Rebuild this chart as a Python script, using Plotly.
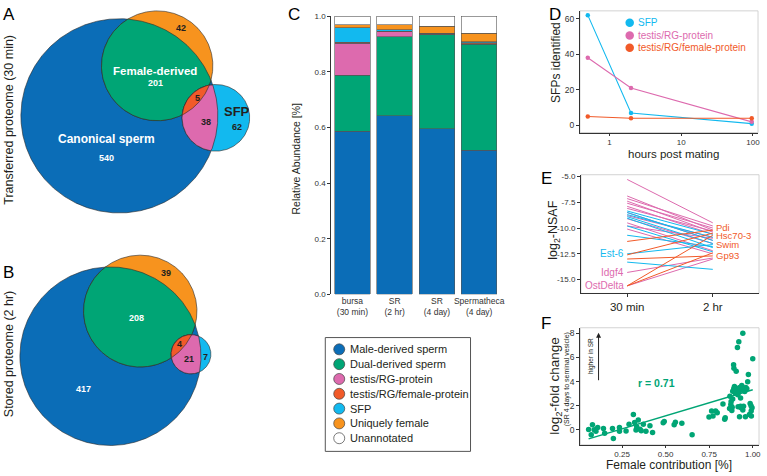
import numpy as np
import plotly.graph_objects as go

W, H = 767, 476
FONT = "Liberation Sans, Arial, Helvetica, sans-serif"
DARK = "#231f20"

BLUE = "#0b6db7"
GREEN = "#00a575"
PINK = "#dd6aae"
RED = "#f15a29"
CYAN = "#12b9ef"
ORANGE = "#f7931e"

# ---------------- data ----------------
# Venn counts: sperm only, sperm&female, female only, sperm&female&SFP, sperm&SFP, SFP only
venn_a_counts = [540, 201, 42, 5, 38, 62]
venn_b_counts = [417, 208, 39, 4, 21, 7]

samples = ["bursa<br>(30 min)", "SR<br>(2 hr)", "SR<br>(4 day)", "Spermatheca<br>(4 day)"]
categories = ["Male-derived sperm", "Dual-derived sperm", "testis/RG-protein",
              "testis/RG/female-protein", "SFP", "Uniquely female", "Unannotated"]
male_derived = [0.587, 0.641, 0.595, 0.518]
dual_derived = [0.201, 0.285, 0.337, 0.380]
testis_rg = [0.115, 0.017, 0.002, 0.003]
testis_rg_female = [0.003, 0.003, 0.004, 0.004]
sfp_frac = [0.052, 0.004, 0.001, 0.002]
uniquely_female = [0.011, 0.018, 0.024, 0.032]
unannotated = [0.031, 0.032, 0.037, 0.061]
cat_colors = [BLUE, GREEN, PINK, RED, CYAN, ORANGE, "#ffffff"]

hours = [0.5, 2, 96]
sfp_identified = [62, 7, 1]
testis_identified = [38, 21, 2]
testis_female_identified = [5, 4, 4]
d_series = ["SFP", "testis/RG-protein", "testis/RG/female-protein"]

e_times = ["30 min", "2 hr"]
e_pink_start = [-5.3, -6.9, -7.15, -7.4, -7.6, -7.9, -8.1, -8.5, -8.8, -9.1, -9.5, -9.8, -10.1, -14.3, -15.6]
e_pink_end = [-9.5, -10.2, -9.8, -10.4, -10.0, -10.6, -10.3, -11.2, -10.9, -11.5, -12.2, -11.0, -12.5, -12.9, -13.0]
e_blue_start = [-8.35, -8.5, -8.7, -8.9, -9.05, -9.8, -10.7, -12.5, -13.3]
e_blue_end = [-10.6, -11.2, -10.9, -11.5, -11.9, -12.3, -11.8, -11.6, -14.0]
e_red_start = [-11.3, -12.6, -13.0, -15.6, -15.6]
e_red_end = [-10.2, -10.5, -12.7, -10.7, -12.4]
e_left_labels = ["Est-6", "Idgf4", "OstDelta"]
e_left_values = [-12.5, -14.3, -15.6]
e_left_colors = [CYAN, PINK, PINK]
e_right_labels = ["Pdi", "Hsc70-3", "Swim", "Gp93"]
e_right_values = [-9.95, -10.7, -11.6, -12.7]

f_female = [0.058, 0.073, 0.08, 0.09, 0.10, 0.11, 0.143, 0.15, 0.195, 0.20, 0.235, 0.235, 0.273,
            0.29, 0.315, 0.322, 0.33, 0.334, 0.343, 0.353, 0.36, 0.372, 0.387, 0.41, 0.425, 0.486,
            0.492, 0.549, 0.556, 0.593, 0.652,
            0.749, 0.764, 0.772, 0.787, 0.796, 0.829, 0.839, 0.842, 0.867, 0.869, 0.874, 0.88,
            0.882, 0.885, 0.89, 0.892, 0.891, 0.895, 0.895, 0.90, 0.905, 0.909, 0.912, 0.914,
            0.916, 0.918, 0.92, 0.924, 0.93, 0.933, 0.937, 0.943, 0.943, 0.947, 0.954, 0.958,
            0.966, 0.971, 0.975, 0.981, 0.985, 0.991, 0.996, 1.0, 0.992, 0.90, 0.905, 0.92,
            0.925, 0.885, 0.94, 0.96, 0.876, 0.99, 0.93]
f_logfc = [0.03, -0.41, 0.41, 0.0, -0.13, 0.19, 0.11, -0.3, 0.11, -0.73, 0.19, -0.13, -0.11,
           0.46, 1.27, 0.6, -0.03, 0.24, 0.81, 0.05, -0.08, 0.46, -0.13, 0.33, -0.22, 0.57,
           0.68, 0.41, 0.62, 0.54, -0.41,
           1.05, 1.55, 1.14, 1.55, 1.41, 2.14, 0.87, 1.0, 1.76, 2.77, 2.09, 1.6,
           1.87, 2.55, 5.4, 5.1, 3.39, 3.17, 3.58, 3.04, 4.85, 3.36, 6.83, 2.9,
           1.9, 3.31, 7.3, 1.08, 2.63, 1.82, 3.66, 8.0, 1.63, 1.95, 3.17, 1.08,
           3.39, 3.99, 4.58, 1.27, 2.17, 1.55, 1.82, 5.89, 1.14, 3.25, 3.45, 3.1,
           3.5, 3.2, 3.3, 3.5, 2.35, 2.0, 1.95]
f_fit_x = [0.058, 1.0]
f_fit_y = [-0.76, 3.31]
f_r = 0.71

# ---------------- layout helpers ----------------
def dx(a, b):
    return [a / W, b / W]

def dy(top, bottom):
    return [1 - bottom / H, 1 - top / H]

fig = go.Figure()

# ---------------- Venn diagrams (pixel overlay axis) ----------------
venn_a_geom = dict(sperm=(120, 114, 99), female=(158, 63, 56), sfp=(217, 116, 34))
venn_b_geom = dict(sperm=(111, 359, 91), female=(141, 313, 57), sfp=(192, 357, 20))

def region(circles, n=720):
    xs, ys = [], []
    for i, c in enumerate(circles):
        t = np.linspace(0, 2 * np.pi, n, endpoint=False)
        x = c[0] + c[2] * np.cos(t)
        y = c[1] + c[2] * np.sin(t)
        m = np.ones_like(x, dtype=bool)
        for j, o in enumerate(circles):
            if j != i:
                m &= (x - o[0]) ** 2 + (y - o[1]) ** 2 <= o[2] ** 2 + 1e-9
        xs.append(x[m]); ys.append(y[m])
    x = np.concatenate(xs); y = np.concatenate(ys)
    cx, cy = x.mean(), y.mean()
    order = np.argsort(np.arctan2(y - cy, x - cx))
    x = x[order]; y = y[order]
    return np.append(x, x[0]), np.append(y, y[0])

def add_region(circles, color):
    x, y = region(circles)
    fig.add_trace(go.Scatter(x=x, y=y, mode="lines", fill="toself", fillcolor=color,
                             line=dict(color="#2a2a2a", width=0.6), xaxis="x", yaxis="y",
                             hoverinfo="skip", showlegend=False))

for g in (venn_a_geom, venn_b_geom):
    add_region([g["sperm"]], BLUE)
    add_region([g["female"]], ORANGE)
    add_region([g["sperm"], g["female"]], GREEN)
    add_region([g["sfp"]], CYAN)
    add_region([g["sfp"], g["sperm"]], PINK)
    add_region([g["sfp"], g["sperm"], g["female"]], RED)

annotations = []

def txt(x, y, text, size=10, color=DARK, bold=False, angle=0, xanchor="center", family=FONT):
    if bold:
        text = "<b>" + text + "</b>"
    annotations.append(dict(x=x, y=y, xref="x", yref="y", text=text, showarrow=False,
                            font=dict(size=size, color=color, family=family),
                            textangle=angle, xanchor=xanchor, yanchor="middle"))

a = venn_a_counts
txt(156, 68, "Female-derived", 11.5, "white", True)
txt(156, 81, str(a[1]), 9, "white", True)
txt(182, 24, str(a[2]), 9, DARK, True)
txt(199, 96, str(a[3]), 9, DARK, True)
txt(207, 120, str(a[4]), 9, DARK, True)
txt(238, 110, "SFP", 13, DARK, True)
txt(238, 125, str(a[5]), 9, DARK, True)
txt(107, 138, "Canonical sperm", 12, "white", True)
txt(107, 157, str(a[0]), 9, "white", True)

b = venn_b_counts
txt(167, 274, str(b[2]), 9, DARK, True)
txt(137, 320, str(b[1]), 9, "white", True)
txt(180, 347, str(b[3]), 9, DARK, True)
txt(190, 362, str(b[4]), 9, DARK, True)
txt(207, 360, str(b[5]), 9, DARK, True)
txt(84, 392, str(b[0]), 9, "white", True)

txt(9, 118, "Transferred proteome (30 min)", 12.5, DARK, angle=-90)
txt(9, 357, "Stored proteome (2 hr)", 12.5, DARK, angle=-90)

for lab, x, y in [("A", 9, 11), ("B", 9, 274), ("C", 296, 10.5), ("D", 557.5, 11),
                  ("E", 549, 178), ("F", 549, 326)]:
    txt(x, y, lab, 17, "black")

# ---------------- Panel C: stacked bars ----------------
series_c = [male_derived, dual_derived, testis_rg, testis_rg_female, sfp_frac,
            uniquely_female, unannotated]
for name, vals, col in zip(categories, series_c, cat_colors):
    fig.add_trace(go.Bar(x=samples, y=vals, name=name, marker=dict(color=col,
                         line=dict(color="#555555", width=0.6)), width=0.84,
                         xaxis="x2", yaxis="y2", showlegend=False, hoverinfo="skip"))

txt(298, 157, "Relative Abundance [%]", 10.5, DARK, angle=-90)

# legend for C (manual)
leg_y0, leg_dy = 352, 15.1
fig.add_trace(go.Scatter(x=[341] * len(categories),
                         y=[leg_y0 + i * leg_dy for i in range(len(categories))],
                         mode="markers", marker=dict(size=11, color=cat_colors,
                         line=dict(color="#444444", width=0.7)),
                         xaxis="x", yaxis="y", hoverinfo="skip", showlegend=False))
for i, name in enumerate(categories):
    txt(350, leg_y0 + i * leg_dy, name, 11, DARK, xanchor="left")

shapes = [dict(type="rect", xref="x", yref="y", x0=327, x1=473, y0=340, y1=456,
               line=dict(color="#555555", width=1), fillcolor="rgba(0,0,0,0)")]

# ---------------- Panel D ----------------
d_vals = [sfp_identified, testis_identified, testis_female_identified]
d_cols = [CYAN, PINK, RED]
for name, vals, col in zip(d_series, d_vals, d_cols):
    fig.add_trace(go.Scatter(x=hours, y=vals, mode="lines+markers", name=name,
                             line=dict(color=col, width=1.1), marker=dict(size=4.5, color=col),
                             xaxis="x3", yaxis="y3", showlegend=False, hoverinfo="skip"))
d_leg_y = [19, 32, 44.5]
fig.add_trace(go.Scatter(x=[633] * 3, y=d_leg_y, mode="markers",
                         marker=dict(size=8.5, color=d_cols), xaxis="x", yaxis="y",
                         hoverinfo="skip", showlegend=False))
for name, y, col in zip(d_series, d_leg_y, d_cols):
    txt(639, y, name, 10, col, xanchor="left")
txt(559, 60, "SFPs identified", 12, DARK, angle=-90)
txt(677, 152.5, "hours post mating", 11.5, DARK)

# ---------------- Panel E ----------------
def seg(starts, ends):
    xs, ys = [], []
    for s, e in zip(starts, ends):
        xs += [0, 1, None]; ys += [s, e, None]
    return xs, ys

for st, en, col in [(e_pink_start, e_pink_end, PINK), (e_blue_start, e_blue_end, CYAN),
                    (e_red_start, e_red_end, RED)]:
    xs, ys = seg(st, en)
    fig.add_trace(go.Scatter(x=xs, y=ys, mode="lines", line=dict(color=col, width=1),
                             xaxis="x4", yaxis="y4", showlegend=False, hoverinfo="skip"))

for lab, v, col in zip(e_left_labels, e_left_values, e_left_colors):
    annotations.append(dict(x=0, y=v, xref="x4", yref="y4", text=lab, showarrow=False,
                            xanchor="right", yanchor="middle", xshift=-1,
                            font=dict(size=10, color=col, family=FONT)))
for lab, v in zip(e_right_labels, e_right_values):
    annotations.append(dict(x=1, y=v, xref="x4", yref="y4", text=lab, showarrow=False,
                            xanchor="left", yanchor="middle", xshift=1,
                            font=dict(size=9.5, color=RED, family=FONT)))
txt(557, 231, "log<sub>2</sub>-NSAF", 12.5, DARK, angle=-90)

# ---------------- Panel F ----------------
fig.add_trace(go.Scatter(x=f_female, y=f_logfc, mode="markers",
                         marker=dict(size=5.5, color=GREEN), xaxis="x5", yaxis="y5",
                         showlegend=False, hoverinfo="skip"))
fig.add_trace(go.Scatter(x=f_fit_x, y=f_fit_y, mode="lines", line=dict(color=GREEN, width=1.5),
                         xaxis="x5", yaxis="y5", showlegend=False, hoverinfo="skip"))
txt(660, 386, "r = %.2f" % f_r, 10.5, GREEN, True)
txt(559, 389, "log<sub>2</sub>-fold change", 13.5, DARK, angle=-90)
txt(569.5, 383, "(SR 4 days to seminal vesicle)", 7, DARK, angle=-90)
txt(594, 359, "higher in SR", 6.5, DARK, angle=-90)
txt(672, 469.5, "Female contribution [%]", 12, DARK)
annotations.append(dict(x=601.7, y=335, xref="x", yref="y", ax=601.7, ay=385, axref="x",
                        ayref="y", text="", showarrow=True, arrowhead=2, arrowsize=1,
                        arrowwidth=1, arrowcolor="#222222"))

# frames for D/E/F
for k in (3, 4, 5):
    shapes.append(dict(type="rect", xref="x%d domain" % k, yref="y%d domain" % k,
                       x0=0, x1=1, y0=0, y1=1, line=dict(color="#c8c8c8", width=0.8),
                       layer="below"))

axis_common = dict(showline=True, linecolor="#333333", linewidth=1, ticks="outside",
                   ticklen=3, tickcolor="#333333", showgrid=False, zeroline=False,
                   tickfont=dict(size=8, color="#333333", family=FONT), fixedrange=True)

fig.update_layout(
    width=W, height=H, autosize=False,
    margin=dict(l=0, r=0, t=0, b=0),
    paper_bgcolor="white", plot_bgcolor="rgba(0,0,0,0)",
    font=dict(family=FONT, color=DARK),
    barmode="stack", bargap=0.16,
    showlegend=False,
    xaxis=dict(domain=[0, 1], range=[0, W], visible=False, fixedrange=True),
    yaxis=dict(domain=[0, 1], range=[H, 0], visible=False, fixedrange=True),
    xaxis2=dict(domain=dx(333, 503), anchor="y2", range=[-0.5, 3.5], showline=False,
                ticks="", showgrid=False, zeroline=False, fixedrange=True,
                tickfont=dict(size=8.5, color="#333333", family=FONT)),
    yaxis2=dict(axis_common, domain=dy(12.3, 296), anchor="x2", range=[0, 1],
                tickvals=[0, 0.2, 0.4, 0.6, 0.8, 1.0], tickformat=".1f"),
    xaxis3=dict(axis_common, domain=dx(583, 762), anchor="y3", type="log",
                range=[-0.41, 2.07], tickvals=[1, 10, 100], ticktext=["1", "10", "100"],
                ticklen=2, tickfont=dict(size=8, color="#333333", family=FONT)),
    yaxis3=dict(axis_common, domain=dy(7, 131), anchor="x3", range=[-4, 64.4],
                tickvals=[0, 20, 40, 60],
                tickfont=dict(size=8.5, color="#333333", family=FONT)),
    xaxis4=dict(axis_common, domain=dx(584, 763), anchor="y4", range=[-0.54, 1.54],
                tickvals=[0, 1], ticktext=e_times,
                tickfont=dict(size=11.5, color=DARK, family=FONT)),
    yaxis4=dict(axis_common, domain=dy(174, 295), anchor="x4", range=[-16.33, -4.84],
                tickvals=[-5, -7.5, -10, -12.5, -15],
                ticktext=["-5.0", "-7.5", "-10.0", "-12.5", "-15.0"]),
    xaxis5=dict(axis_common, domain=dx(583.3, 763), anchor="y5", range=[0.01, 1.036],
                tickvals=[0.25, 0.5, 0.75, 1.0], ticktext=["0.25", "0.50", "0.75", "1.00"],
                ticklen=2, tickfont=dict(size=8, color="#333333", family=FONT)),
    yaxis5=dict(axis_common, domain=dy(330, 449.3), anchor="x5", range=[-1.25, 8.46],
                tickvals=[0, 2, 4, 6, 8],
                tickfont=dict(size=8.5, color="#333333", family=FONT)),
    annotations=annotations,
    shapes=shapes,
)

fig.write_html("out.html", config={"displayModeBar": False, "staticPlot": True},
               post_script="document.body.style.margin='0px';document.body.style.overflow='hidden';")
